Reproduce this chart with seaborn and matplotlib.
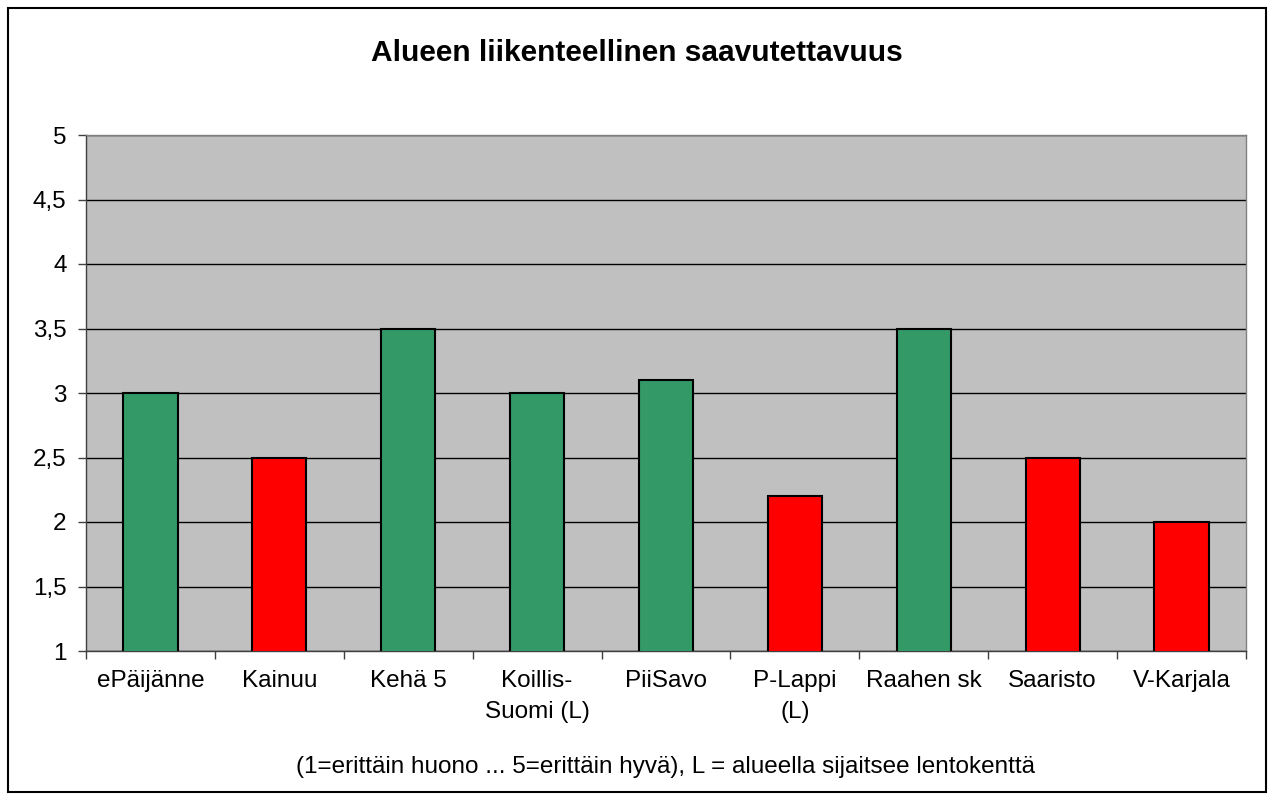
import numpy as np
import pandas as pd
import seaborn as sns
import matplotlib.pyplot as plt
from matplotlib.patches import Rectangle

regions = ['ePäijänne', 'Kainuu', 'Kehä 5', 'Koillis-\nSuomi (L)', 'PiiSavo',
           'P-Lappi\n(L)', 'Raahen sk', 'Saaristo', 'V-Karjala']
scores = [3.0, 2.5, 3.5, 3.0, 3.1, 2.2, 3.5, 2.5, 2.0]
groups = ['hyvä', 'huono', 'hyvä', 'hyvä', 'hyvä', 'huono', 'hyvä', 'huono', 'huono']
y_ticks = [1, 1.5, 2, 2.5, 3, 3.5, 4, 4.5, 5]
y_labels = ['1', '1,5', '2', '2,5', '3', '3,5', '4', '4,5', '5']

df = pd.DataFrame({'alue': regions, 'arvo': scores, 'ryhma': groups})

sns.set_theme(style='white')
plt.rcParams['font.family'] = ['Liberation Sans', 'DejaVu Sans']
plt.rcParams['text.color'] = 'black'
plt.rcParams['xtick.color'] = 'black'
plt.rcParams['ytick.color'] = 'black'
plt.rcParams['axes.labelcolor'] = 'black'

fig = plt.figure(figsize=(12.74, 8), dpi=100)
ax = fig.add_axes([86 / 1274, 149 / 800, 1160 / 1274, 516 / 800])
ax.set_facecolor('#C0C0C0')

sns.barplot(data=df, x='alue', y='arvo', hue='ryhma',
            palette={'hyvä': '#339966', 'huono': '#FF0000'}, saturation=1,
            dodge=False, width=0.42, edgecolor='black', linewidth=1.5,
            legend=False, ax=ax, zorder=3)

ax.set_ylim(1, 5)
ax.set_xlim(-0.5, len(regions) - 0.5)
ax.set_yticks(y_ticks)
ax.set_yticklabels(y_labels, fontsize=17.5)
ax.yaxis.grid(True, color='black', linewidth=1)
ax.set_axisbelow(True)

ax.set_xticks(range(len(regions)))
ax.set_xticklabels(regions, fontsize=17.5, linespacing=1.5)
ax.set_xticks(np.arange(-0.5, len(regions)), minor=True)
ax.tick_params(axis='x', which='major', length=0, pad=14)
ax.tick_params(axis='x', which='minor', length=6, color='#404040', width=1, bottom=True)
ax.tick_params(axis='y', length=6, color='#404040', width=1, left=True, pad=8)

for s in ['top', 'right']:
    ax.spines[s].set_color('#808080')
    ax.spines[s].set_linewidth(1)
for s in ['left', 'bottom']:
    ax.spines[s].set_color('#404040')
    ax.spines[s].set_linewidth(1)

ax.set_xlabel('(1=erittäin huono ... 5=erittäin hyvä), L = alueella sijaitsee lentokenttä',
              fontsize=17.5, labelpad=24)
ax.set_ylabel('')

fig.text(0.5, 1 - 53 / 800, 'Alueen liikenteellinen saavutettavuus',
         ha='center', va='center', fontsize=21.5, fontweight='bold')

fig.patches.append(Rectangle((8 / 1274, 8 / 800), 1258 / 1274, 784 / 800,
                             transform=fig.transFigure, fill=False,
                             edgecolor='black', linewidth=1.5))

fig.savefig('out.png', dpi=100)
